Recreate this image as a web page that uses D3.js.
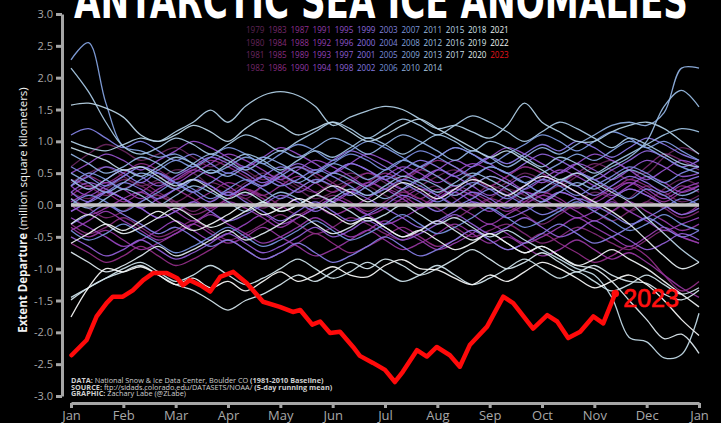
<!DOCTYPE html>
<html>
<head>
<meta charset="utf-8">
<script src="https://cdn.jsdelivr.net/npm/d3@7"></script>
<style>
  html, body { margin: 0; padding: 0; background: #000; overflow: hidden; }
  svg { display: block; }
</style>
</head>
<body>
<script>
// Antarctic sea ice extent departures (million km², 1981-2010 baseline), 5-day running mean.
// Each year is sampled every third of a month, Jan 1 to the following Jan 1 (37 points).
const monthLabels = ["Jan","Feb","Mar","Apr","May","Jun","Jul","Aug","Sep","Oct","Nov","Dec","Jan"];
const yTicks = [-3, -2.5, -2, -1.5, -1, -0.5, 0, 0.5, 1, 1.5, 2, 2.5, 3];
const samplePos = [0,1/3,2/3,1,4/3,5/3,2,7/3,8/3,3,10/3,11/3,4,13/3,14/3,5,16/3,17/3,6,19/3,20/3,7,22/3,23/3,8,25/3,26/3,9,28/3,29/3,10,31/3,32/3,11,34/3,35/3,12];

const y1979 = [0.35,0.5,0.6, 0.45,0.3,0.4, 0.55,0.5,0.3, 0.2,0.35,0.5, 0.4,0.25,0.1, 0.2,0.35,0.3, 0.15,0.05,0.2, 0.3,0.1,-0.05, 0.1,0.25,0.15, 0.0,-0.1,0.05, 0.2,0.1,-0.1, 0.05,0.25,0.4, 0.3];
const y1980 = [0.6,0.8,0.95, 0.85,0.7,0.8, 0.9,0.75,0.6, 0.7,0.55,0.4, 0.5,0.6,0.45, 0.3,0.4,0.5, 0.35,0.2,0.3, 0.45,0.55,0.4, 0.25,0.35,0.5, 0.4,0.3,0.45, 0.6,0.7,0.55, 0.5,0.75,0.9, 0.8];
const y1981 = [0.2,0.1,0.25, 0.4,0.3,0.15, 0.05,0.2,0.35, 0.25,0.1,0.3, 0.45,0.3,0.2, 0.35,0.5,0.4, 0.25,0.4,0.55, 0.45,0.3,0.15, 0.3,0.2,0.05, 0.15,0.3,0.2, 0.0,-0.1,0.1, 0.3,0.2,0.05, 0.15];
const y1982 = [0.4,0.3,0.15, 0.25,0.35,0.2, 0.05,-0.1,0.05, 0.2,0.1,-0.05, 0.1,0.25,0.4, 0.3,0.15,0.3, 0.45,0.35,0.2, 0.1,0.25,0.4, 0.3,0.45,0.6, 0.5,0.35,0.5, 0.65,0.55,0.4, 0.6,0.8,0.7, 0.55];
const y1983 = [0.1,-0.05,-0.2, -0.1,0.05,0.15, 0.0,-0.15,-0.05, 0.1,0.25,0.15, 0.0,-0.15,0.0, 0.15,0.05,-0.1, 0.05,0.2,0.1, -0.05,-0.2,-0.05, 0.1,0.0,-0.15, -0.3,-0.15,0.0, -0.1,-0.25,-0.1, 0.05,-0.05,-0.2, -0.1];
const y1984 = [-0.3,-0.45,-0.35, -0.2,-0.35,-0.5, -0.4,-0.25,-0.4, -0.55,-0.45,-0.3, -0.15,-0.3,-0.45, -0.35,-0.2,-0.3, -0.45,-0.55,-0.4, -0.25,-0.35,-0.5, -0.4,-0.3,-0.45, -0.6,-0.5,-0.35, -0.45,-0.6,-0.7, -0.55,-0.4,-0.5, -0.6];
const y1985 = [0.3,0.45,0.35, 0.5,0.65,0.55, 0.4,0.55,0.7, 0.6,0.45,0.3, 0.45,0.6,0.5, 0.35,0.2,0.35, 0.5,0.4,0.55, 0.7,0.6,0.45, 0.3,0.45,0.6, 0.5,0.35,0.5, 0.4,0.25,0.4, 0.3,0.15,0.3, 0.2];
const y1986 = [-0.6,-0.75,-0.9, -0.8,-0.65,-0.8, -0.95,-0.85,-0.7, -0.55,-0.7,-0.85, -0.75,-0.6,-0.45, -0.6,-0.75,-0.65, -0.5,-0.35,-0.5, -0.65,-0.55,-0.4, -0.55,-0.7,-0.6, -0.45,-0.6,-0.75, -0.9,-0.8,-0.65, -0.8,-1.1,-1.35, -1.2];
const y1987 = [0.15,0.3,0.2, 0.05,0.2,0.35, 0.25,0.1,-0.05, 0.1,0.25,0.15, 0.3,0.45,0.35, 0.2,0.35,0.5, 0.4,0.25,0.1, 0.25,0.15,0.3, 0.45,0.35,0.2, 0.05,0.2,0.1, -0.05,0.1,0.25, 0.15,0.0,-0.15, 0.0];
const y1988 = [-0.1,0.05,0.2, 0.1,-0.05,-0.2, -0.1,0.05,0.2, 0.35,0.25,0.1, -0.05,0.1,0.0, -0.15,-0.05,0.1, 0.25,0.15,0.0, 0.15,0.3,0.2, 0.05,-0.1,0.05, 0.2,0.1,-0.05, 0.1,0.25,0.35, 0.2,0.05,0.2, 0.3];
const y1989 = [-0.35,-0.5,-0.4, -0.55,-0.7,-0.6, -0.45,-0.3,-0.45, -0.6,-0.5,-0.35, -0.5,-0.65,-0.8, -0.7,-0.55,-0.4, -0.55,-0.7,-0.6, -0.45,-0.3,-0.45, -0.6,-0.5,-0.65, -0.8,-0.7,-0.55, -0.7,-0.85,-0.75, -0.9,-1.1,-1.3, -1.45];
const y1990 = [0.0,-0.15,-0.05, 0.1,0.2,0.05, -0.1,-0.25,-0.1, 0.05,-0.05,-0.2, -0.35,-0.2,-0.05, 0.1,0.0,-0.15, -0.05,0.1,0.25, 0.15,0.0,-0.15, -0.3,-0.15,0.0, 0.15,0.05,-0.1, -0.25,-0.1,0.05, -0.1,-0.25,-0.4, -0.3];
const y1991 = [-0.4,-0.25,-0.1, -0.25,-0.4,-0.55, -0.45,-0.3,-0.15, -0.3,-0.45,-0.6, -0.5,-0.35,-0.2, -0.35,-0.5,-0.4, -0.25,-0.4,-0.55, -0.7,-0.6,-0.45, -0.3,-0.45,-0.6, -0.5,-0.35,-0.2, -0.35,-0.5,-0.65, -0.5,-0.35,-0.5, -0.6];
const y1992 = [0.05,0.2,0.35, 0.25,0.1,0.25, 0.4,0.55,0.45, 0.3,0.15,0.3, 0.45,0.35,0.2, 0.05,0.2,0.35, 0.25,0.1,-0.05, 0.1,0.25,0.15, 0.0,0.15,0.3, 0.45,0.35,0.2, 0.05,0.2,0.35, 0.25,0.1,0.25, 0.35];
const y1993 = [-0.2,-0.35,-0.5, -0.65,-0.55,-0.4, -0.25,-0.4,-0.55, -0.45,-0.3,-0.15, -0.3,-0.2,-0.05, 0.1,0.0,-0.15, -0.3,-0.2,-0.05, 0.1,0.2,0.05, -0.1,0.05,0.2, 0.1,-0.05,-0.2, -0.1,0.05,-0.1, -0.25,-0.4,-0.3, -0.2];
const y1994 = [0.3,0.15,0.3, 0.45,0.6,0.5, 0.35,0.5,0.65, 0.8,0.7,0.55, 0.4,0.55,0.7, 0.6,0.45,0.3, 0.45,0.6,0.5, 0.35,0.5,0.65, 0.55,0.4,0.25, 0.4,0.55,0.45, 0.3,0.15,0.3, 0.45,0.35,0.2, 0.3];
const y1995 = [0.5,0.65,0.8, 0.7,0.55,0.7, 0.85,1.0,0.9, 0.75,0.6,0.75, 0.9,0.8,0.65, 0.5,0.65,0.8, 0.7,0.55,0.4, 0.55,0.7,0.6, 0.75,0.9,0.8, 0.65,0.5,0.65, 0.8,0.7,0.55, 0.4,0.55,0.7, 0.6];
const y1996 = [0.2,0.35,0.25, 0.1,-0.05,0.1, 0.25,0.4,0.3, 0.15,0.3,0.45, 0.35,0.2,0.35, 0.5,0.65,0.55, 0.4,0.25,0.4, 0.55,0.45,0.3, 0.15,0.3,0.45, 0.35,0.5,0.65, 0.55,0.4,0.55, 0.7,0.6,0.45, 0.5];
const y1997 = [-0.5,-0.65,-0.8, -0.7,-0.55,-0.7, -0.85,-0.75,-0.6, -0.45,-0.6,-0.75, -0.65,-0.5,-0.35, -0.5,-0.4,-0.25, -0.4,-0.55,-0.45, -0.3,-0.15,-0.3, -0.45,-0.35,-0.2, -0.35,-0.5,-0.4, -0.25,-0.4,-0.55, -0.7,-0.6,-0.45, -0.55];
const y1998 = [0.4,0.25,0.4, 0.55,0.45,0.3, 0.45,0.6,0.75, 0.65,0.5,0.35, 0.5,0.65,0.55, 0.7,0.85,0.75, 0.6,0.45,0.6, 0.75,0.9,0.8, 0.65,0.5,0.65, 0.8,0.7,0.55, 0.4,0.55,0.7, 0.85,0.75,0.6, 0.7];
const y1999 = [-0.1,0.05,0.2, 0.1,-0.05,-0.2, -0.1,0.05,-0.1, -0.25,-0.15,0.0, 0.15,0.05,-0.1, 0.05,0.2,0.1, -0.05,-0.2,-0.35, -0.25,-0.1,0.05, -0.05,-0.2,-0.1, 0.05,0.2,0.1, -0.05,0.1,0.25, 0.15,0.0,-0.15, -0.05];
const y2000 = [0.3,0.45,0.6, 0.5,0.35,0.5, 0.35,0.2,0.05, 0.2,0.05,-0.1, -0.25,-0.1,0.05, -0.1,-0.25,-0.15, 0.0,0.15,0.05, -0.1,0.05,0.2, 0.1,-0.05,0.1, 0.25,0.4,0.3, 0.15,0.3,0.45, 0.35,0.2,0.35, 0.45];
const y2001 = [0.2,0.05,0.2, 0.35,0.25,0.1, 0.25,0.4,0.3, 0.15,0.3,0.45, 0.6,0.5,0.35, 0.5,0.65,0.55, 0.4,0.55,0.7, 0.6,0.45,0.6, 0.75,0.65,0.8, 0.95,0.85,1.0, 0.9,0.75,0.9, 1.05,0.95,0.8, 0.7];
const y2002 = [-0.3,-0.15,0.0, -0.15,-0.3,-0.45, -0.35,-0.5,-0.65, -0.55,-0.7,-0.85, -0.75,-0.6,-0.75, -0.9,-0.8,-0.65, -0.5,-0.65,-0.8, -0.7,-0.55,-0.4, -0.55,-0.7,-0.6, -0.45,-0.3,-0.45, -0.6,-0.5,-0.35, -0.2,-0.35,-0.5, -0.4];
const y2003 = [1.1,1.2,1.05, 0.9,1.0,0.85, 0.7,0.8,0.65, 0.5,0.6,0.45, 0.3,0.4,0.55, 0.45,0.3,0.15, 0.25,0.4,0.3, 0.15,0.0,0.1, 0.25,0.15,0.0, -0.15,-0.05,0.1, 0.0,-0.15,-0.3, -0.2,-0.05,0.1, 0.0];
const y2004 = [0.6,0.45,0.3, 0.45,0.6,0.5, 0.35,0.2,0.35, 0.5,0.4,0.25, 0.1,0.25,0.4, 0.3,0.15,0.3, 0.45,0.35,0.2, 0.05,0.2,0.35, 0.25,0.1,0.25, 0.4,0.3,0.15, 0.3,0.45,0.6, 0.5,0.35,0.5, 0.6];
const y2005 = [0.0,0.15,0.05, -0.1,0.05,0.2, 0.35,0.25,0.1, 0.25,0.4,0.3, 0.45,0.6,0.5, 0.65,0.8,0.7, 0.55,0.7,0.85, 0.75,0.6,0.45, 0.6,0.5,0.35, 0.2,0.35,0.5, 0.4,0.25,0.1, 0.25,0.15,0.0, 0.1];
const y2006 = [-0.4,-0.55,-0.45, -0.3,-0.45,-0.6, -0.75,-0.65,-0.5, -0.35,-0.5,-0.65, -0.55,-0.4,-0.25, -0.4,-0.55,-0.45, -0.3,-0.15,-0.3, -0.45,-0.35,-0.2, -0.05,-0.2,-0.35, -0.25,-0.1,0.05, -0.1,-0.25,-0.4, -0.3,-0.15,-0.3, -0.4];
const y2007 = [0.3,0.5,0.4, 0.25,0.4,0.55, 0.7,0.6,0.75, 0.9,0.8,0.65, 0.8,0.95,0.85, 0.7,0.85,1.0, 0.9,0.75,0.6, 0.75,0.9,0.8, 0.65,0.8,0.95, 1.1,1.0,0.85, 1.0,1.15,1.05, 0.9,1.0,0.85, 0.7];
const y2008 = [2.28,2.55,1.6, 0.92,0.85,0.75, 0.8,0.65,0.5, 0.6,0.75,0.65, 0.5,0.35,0.5, 0.65,0.55,0.4, 0.55,0.7,0.6, 0.45,0.3,0.45, 0.6,0.5,0.35, 0.5,0.65,0.8, 0.7,0.85,1.0, 0.9,0.75,0.6, 0.5];
const y2009 = [0.5,0.35,0.2, 0.35,0.5,0.4, 0.25,0.4,0.55, 0.45,0.6,0.75, 0.65,0.5,0.35, 0.5,0.4,0.25, 0.1,0.25,0.4, 0.3,0.15,0.3, 0.45,0.35,0.2, 0.05,0.2,0.35, 0.25,0.4,0.55, 0.45,0.3,0.15, 0.25];
const y2010 = [0.8,0.65,0.5, 0.6,0.75,0.65, 0.5,0.65,0.8, 0.7,0.55,0.7, 0.85,0.75,0.9, 1.05,0.95,0.8, 0.95,1.1,1.0, 0.85,0.7,0.85, 0.75,0.6,0.75, 0.9,0.8,0.95, 1.1,1.25,1.3, 1.25,1.45,2.15, 2.15];
const y2011 = [0.1,-0.05,0.1, 0.25,0.15,0.0, 0.15,0.3,0.2, 0.05,-0.1,0.05, 0.2,0.1,-0.05, 0.1,0.25,0.15, 0.3,0.45,0.35, 0.2,0.35,0.5, 0.4,0.25,0.1, 0.25,0.4,0.3, 0.45,0.6,0.75, 1.0,1.55,1.8, 1.54];
const y2012 = [0.4,0.25,0.4, 0.55,0.45,0.6, 0.75,0.65,0.5, 0.65,0.8,0.7, 0.55,0.7,0.85, 0.75,0.9,1.05, 0.95,0.8,0.95, 1.1,1.0,0.85, 1.0,0.9,0.75, 0.6,0.75,0.65, 0.5,0.65,0.8, 0.95,1.1,1.2, 1.15];
const y2013 = [2.15,1.78,1.3, 0.92,0.8,0.9, 1.05,0.95,0.8, 0.95,1.1,1.0, 0.85,1.0,1.15, 1.3,1.2,1.05, 1.2,1.35,1.25, 1.1,1.25,1.4, 1.3,1.15,1.0, 1.15,1.3,1.2, 1.05,0.9,1.05, 0.95,0.8,0.65, 0.6];
const y2014 = [1.0,0.9,0.85, 0.95,1.05,1.0, 1.15,1.3,1.49, 1.3,1.55,1.72, 1.78,1.72,1.55, 1.25,1.38,1.48, 1.55,1.5,1.35, 1.2,1.25,1.15, 1.05,1.25,1.6, 1.3,1.15,1.0, 1.0,1.15,1.25, 1.3,1.2,1.0, 0.8];
const y2015 = [1.57,1.6,1.52, 1.38,1.1,1.0, 1.1,1.25,1.15, 1.0,1.2,1.35, 1.25,1.1,1.2, 1.3,1.15,1.0, 1.1,1.25,1.35, 1.2,1.05,0.9, 0.75,0.85,0.7, 0.55,0.4,0.5, 0.35,0.2,0.05, -0.2,-0.45,-0.7, -0.9];
const y2016 = [0.9,0.8,0.7, 0.55,0.6,0.45, 0.3,0.4,0.25, 0.1,0.2,0.05, -0.1,0.0,0.15, 0.05,-0.1,-0.25, -0.15,0.0,-0.15, -0.3,-0.2,-0.35, -0.5,-0.4,-0.55, -0.7,-0.85,-1.0, -1.1,-1.45,-2.08, -2.15,-2.4,-2.35, -1.7];
const y2017 = [-1.45,-1.3,-1.15, -1.0,-0.9,-1.05, -1.2,-1.1,-0.95, -1.1,-1.25,-1.15, -1.0,-0.85,-1.0, -1.15,-1.05,-0.9, -1.05,-1.2,-1.1, -0.95,-1.1,-1.25, -1.15,-1.0,-0.85, -1.0,-1.15,-1.05, -1.2,-1.35,-1.25, -1.1,-1.25,-1.4, -1.3];
const y2018 = [-1.49,-1.3,-1.15, -1.05,-0.95,-1.1, -1.25,-1.34,-1.5, -1.65,-1.5,-1.4, -1.25,-1.1,-1.2, -1.05,-0.9,-1.0, -0.85,-0.95,-1.1, -1.0,-0.85,-0.7, -0.85,-1.0,-0.9, -0.75,-0.9,-1.05, -0.95,-1.1,-1.2, -1.23,-1.4,-1.49, -1.34];
const y2019 = [-0.74,-0.9,-1.05, -0.95,-0.8,-0.65, -0.8,-0.7,-0.55, -0.4,-0.55,-0.45, -0.3,-0.15,-0.3, -0.45,-0.35,-0.2, -0.35,-0.5,-0.4, -0.25,-0.4,-0.55, -0.45,-0.6,-0.75, -0.65,-0.8,-0.95, -1.0,-1.2,-1.5, -1.8,-2.1,-2.03, -2.33];
const y2020 = [-0.3,-0.15,-0.3, -0.45,-0.35,-0.2, -0.05,-0.2,-0.35, -0.25,-0.1,0.05, -0.1,0.0,0.15, 0.3,0.2,0.05, 0.2,0.35,0.25, 0.1,0.25,0.4, 0.3,0.15,0.3, 0.45,0.35,0.2, 0.05,-0.1,-0.3, -0.55,-0.8,-1.0, -0.9];
const y2021 = [-0.6,-0.45,-0.3, -0.4,-0.25,-0.1, -0.25,-0.4,-0.3, -0.15,0.0,-0.15, -0.05,0.1,0.0, -0.15,-0.3,-0.2, -0.35,-0.5,-0.4, -0.55,-0.7,-0.6, -0.45,-0.6,-0.75, -0.65,-0.8,-0.95, -0.85,-0.7,-0.85, -1.0,-1.2,-1.4, -1.6];
const y2022 = [-1.76,-1.3,-1.0, -1.05,-0.97,-1.1, -1.25,-1.15,-1.3, -1.2,-1.35,-1.2, -1.05,-1.2,-1.1, -0.97,-1.1,-1.13, -0.95,-0.86,-1.0, -1.02,-1.15,-1.25, -1.1,-1.2,-1.05, -0.9,-1.0,-1.15, -1.3,-1.2,-1.1, -1.25,-1.5,-1.8, -2.05];

// 2023 so far (position in months since Jan 1, departure)
const t2023 = [0.01,0.30,0.49,0.68,0.80,0.99,1.18,1.38,1.57,1.83,2.03,2.14,2.27,2.47,2.66,2.85,3.10,3.36,3.67,3.99,4.24,4.38,4.61,4.76,4.95,5.14,5.39,5.52,5.77,6.00,6.19,6.34,6.61,6.80,6.99,7.24,7.43,7.62,7.95,8.26,8.45,8.83,9.10,9.29,9.50,9.73,9.98,10.17,10.40];
const v2023 = [-2.36,-2.12,-1.75,-1.54,-1.44,-1.44,-1.34,-1.18,-1.07,-1.07,-1.15,-1.26,-1.18,-1.26,-1.36,-1.13,-1.05,-1.23,-1.52,-1.60,-1.68,-1.65,-1.88,-1.83,-2.01,-1.99,-2.23,-2.37,-2.48,-2.59,-2.78,-2.62,-2.28,-2.38,-2.23,-2.36,-2.54,-2.20,-1.91,-1.44,-1.54,-1.94,-1.73,-1.83,-2.09,-1.99,-1.75,-1.86,-1.39];

const pastYears = [
  [1979,y1979],[1980,y1980],[1981,y1981],[1982,y1982],[1983,y1983],[1984,y1984],[1985,y1985],
  [1986,y1986],[1987,y1987],[1988,y1988],[1989,y1989],[1990,y1990],[1991,y1991],[1992,y1992],
  [1993,y1993],[1994,y1994],[1995,y1995],[1996,y1996],[1997,y1997],[1998,y1998],[1999,y1999],
  [2000,y2000],[2001,y2001],[2002,y2002],[2003,y2003],[2004,y2004],[2005,y2005],[2006,y2006],
  [2007,y2007],[2008,y2008],[2009,y2009],[2010,y2010],[2011,y2011],[2012,y2012],[2013,y2013],
  [2014,y2014],[2015,y2015],[2016,y2016],[2017,y2017],[2018,y2018],[2019,y2019],[2020,y2020],
  [2021,y2021],[2022,y2022]
];

const W = 721, H = 423;
const svg = d3.select("body").append("svg")
  .attr("width", W).attr("height", H)
  .style("background", "#000");

svg.append("rect").attr("width", W).attr("height", H).attr("fill", "#000");

const x = d3.scaleLinear().domain([0, 12]).range([71, 699]);
const y = d3.scaleLinear().domain([-3, 3]).range([396, 14]);

// year colour ramp: magenta (1979) -> violet -> blue -> pale cyan -> white (2022)
const yearColor = d3.scaleLinear()
  .domain([1979, 1986, 1993, 2000, 2006, 2012, 2017, 2022])
  .range(["#5e2454", "#8e2c84", "#9442bc", "#8a70e2", "#7590dc", "#9cc0e0", "#cadfe8", "#f4f4f4"])
  .interpolate(d3.interpolateRgb);

// title (runs off the top edge)
svg.append("text")
  .attr("x", 381).attr("y", 18)
  .attr("text-anchor", "middle")
  .attr("font-family", "'DejaVu Sans', sans-serif")
  .attr("font-weight", "bold")
  .attr("font-size", 50)
  .attr("fill", "#fff")
  .attr("textLength", 614)
  .attr("lengthAdjust", "spacingAndGlyphs")
  .text("ANTARCTIC SEA ICE ANOMALIES");

// y axis
const yAxis = svg.append("g")
  .attr("transform", "translate(62,0)")
  .call(d3.axisLeft(y).tickValues(yTicks).tickFormat(d => d.toFixed(1)).tickSize(6).tickSizeOuter(0).tickPadding(3));
yAxis.select(".domain").attr("stroke", "#a6a6a6").attr("stroke-width", 3);
yAxis.selectAll(".tick line").attr("stroke", "#a6a6a6").attr("stroke-width", 3);
yAxis.selectAll(".tick text")
  .attr("fill", "#a8a8a8")
  .attr("font-family", "'Open Sans', sans-serif")
  .attr("font-size", 11);

// x axis
const xAxis = svg.append("g")
  .attr("transform", "translate(0,403)")
  .call(d3.axisBottom(x).tickValues(d3.range(0, 13)).tickFormat(i => monthLabels[i]).tickSize(5).tickSizeOuter(0).tickPadding(3));
xAxis.select(".domain").attr("stroke", "#a6a6a6").attr("stroke-width", 3);
xAxis.selectAll(".tick line").attr("stroke", "#a6a6a6").attr("stroke-width", 3);
xAxis.selectAll(".tick text")
  .attr("fill", "#a8a8a8")
  .attr("font-family", "'Open Sans', sans-serif")
  .attr("font-size", 13);

// y axis title
const yTitle = svg.append("text")
  .attr("transform", "translate(27,210) rotate(-90)")
  .attr("text-anchor", "middle")
  .attr("font-family", "'Open Sans', sans-serif")
  .attr("font-size", 11.5)
  .attr("fill", "#f2f2f2");
yTitle.append("tspan").attr("font-weight", "bold").text("Extent Departure");
yTitle.append("tspan").text(" (million square kilometers)");

// year lines
const line = d3.line()
  .x((d, i) => x(samplePos[i]))
  .y(d => y(d))
  .curve(d3.curveCatmullRom.alpha(0.5));

const lines = svg.append("g");
pastYears.forEach(([yr, vals]) => {
  lines.append("path")
    .datum(vals)
    .attr("d", line)
    .attr("fill", "none")
    .attr("stroke", yearColor(yr))
    .attr("stroke-width", 1.3)
    .attr("stroke-opacity", 0.95);
});

// zero line
svg.append("line")
  .attr("x1", x(0)).attr("x2", x(12))
  .attr("y1", y(0)).attr("y2", y(0))
  .attr("stroke", "#c4c4c4")
  .attr("stroke-width", 3.5);

// 2023
const pts2023 = t2023.map((t, i) => [t, v2023[i]]);
const line2023 = d3.line().x(d => x(d[0])).y(d => y(d[1])).curve(d3.curveLinear);
svg.append("path")
  .datum(pts2023)
  .attr("d", line2023)
  .attr("fill", "none")
  .attr("stroke", "#ff0a0a")
  .attr("stroke-width", 4.5)
  .attr("stroke-linejoin", "round")
  .attr("stroke-linecap", "round");
const last = pts2023[pts2023.length - 1];
svg.append("circle")
  .attr("cx", x(last[0])).attr("cy", y(last[1])).attr("r", 3.8)
  .attr("fill", "#ff0a0a");
svg.append("text")
  .attr("x", x(last[0]) + 8).attr("y", y(last[1]) + 14)
  .attr("font-family", "'Liberation Sans', Arial, sans-serif")
  .attr("font-size", 25)
  .attr("fill", "#ff1010")
  .attr("stroke", "#ff1010")
  .attr("stroke-width", 0.7)
  .text("2023");

// legend: columns of four years until 2014, then columns of three
const legendYears = pastYears.map(d => d[0]).concat([2023]);
const legend = svg.append("g")
  .attr("font-family", "'Open Sans', sans-serif")
  .attr("font-size", 9);
legendYears.forEach(yr => {
  let col, row;
  if (yr <= 2014) { col = Math.floor((yr - 1979) / 4); row = (yr - 1979) % 4; }
  else { col = 9 + Math.floor((yr - 2015) / 3); row = (yr - 2015) % 3; }
  legend.append("text")
    .attr("x", 246 + col * 22.2)
    .attr("y", 33 + row * 12.5)
    .attr("textLength", 18.5)
    .attr("lengthAdjust", "spacingAndGlyphs")
    .attr("fill", yr === 2023 ? "#e8141c" : yearColor(yr))
    .text(yr);
});

// credits
const credits = svg.append("g")
  .attr("font-family", "'Open Sans', sans-serif")
  .attr("font-size", 7.3)
  .attr("fill", "#cfcfcf");
const c1 = credits.append("text").attr("x", 71).attr("y", 383);
c1.append("tspan").attr("font-weight", "bold").text("DATA: ");
c1.append("tspan").text("National Snow & Ice Data Center, Boulder CO ");
c1.append("tspan").attr("font-weight", "bold").text("(1981-2010 Baseline)");
const c2 = credits.append("text").attr("x", 71).attr("y", 389.5);
c2.append("tspan").attr("font-weight", "bold").text("SOURCE: ");
c2.append("tspan").text("ftp://sidads.colorado.edu/DATASETS/NOAA/ ");
c2.append("tspan").attr("font-weight", "bold").text("(5-day running mean)");
const c3 = credits.append("text").attr("x", 71).attr("y", 396);
c3.append("tspan").attr("font-weight", "bold").text("GRAPHIC: ");
c3.append("tspan").text("Zachary Labe (@ZLabe)");
</script>
</body>
</html>
